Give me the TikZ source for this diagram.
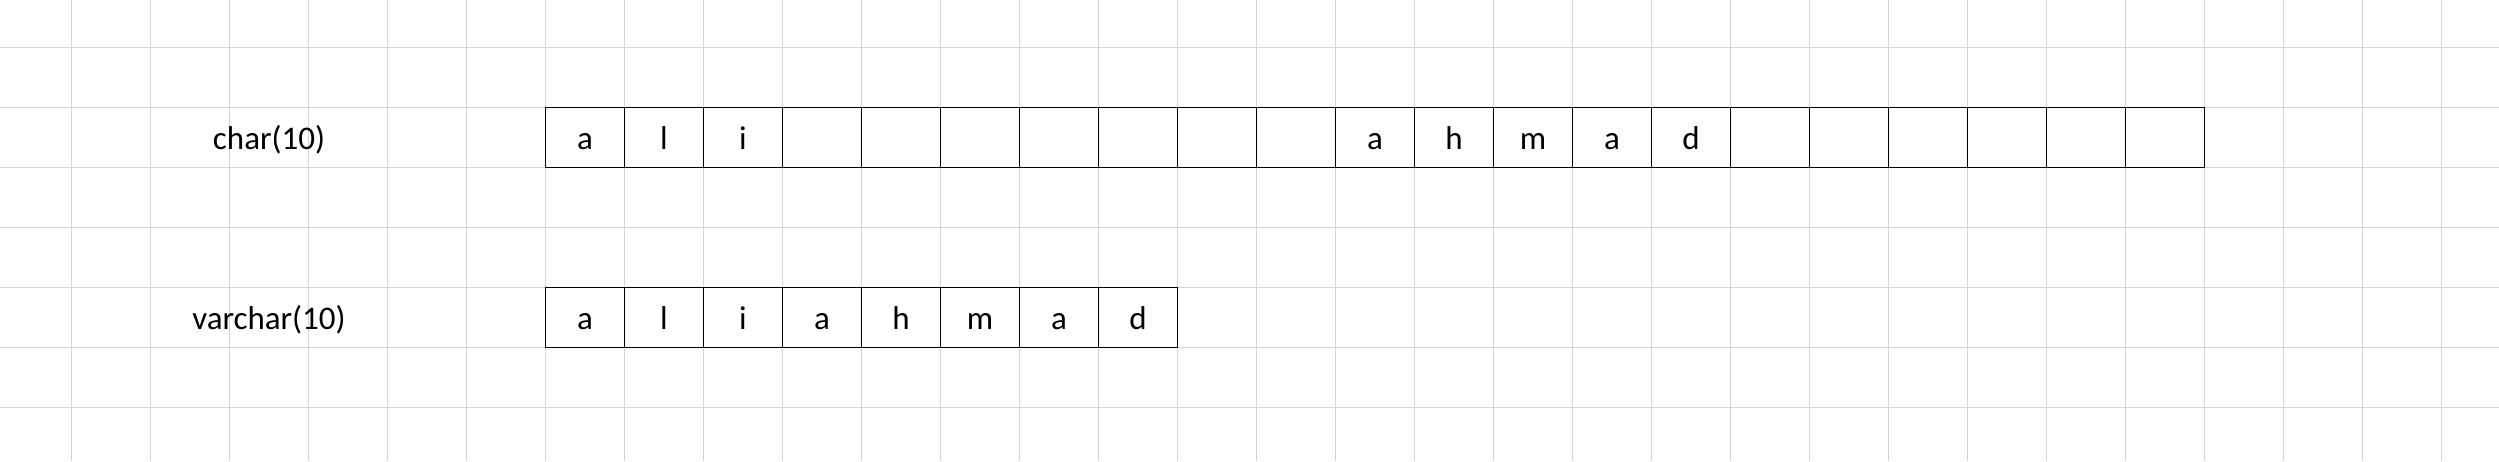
\documentclass[tikz,border=0pt]{standalone}
\usepackage{fontspec}
\setmainfont{Carlito}
\definecolor{gridgray}{RGB}{212,212,212}
\begin{document}
\begin{tikzpicture}[x=0.4pt,y=-0.4pt,
  gridline/.style={draw=gridgray,line width=0.45pt},
  cell/.style={draw=black,line width=0.5pt,minimum width=31.6pt,minimum height=24pt,inner sep=0pt,outer sep=0pt},
  txt/.style={font=\fontsize{13.2pt}{15pt}\selectfont,inner sep=0pt,anchor=base}]
\useasboundingbox[fill=white] (0,0) rectangle (2499,461);
% spreadsheet grid
\foreach \k in {0,...,30} \draw[gridline] ({71.4+79*\k},0) -- ({71.4+79*\k},461);
\foreach \k in {0,...,6} \draw[gridline] (0,{47.3+60*\k}) -- (2499,{47.3+60*\k});
% row labels
\node[txt] (lchar) at (269,149.3) {char(10)};
\node[txt] (lvar) at (269,329.3) {varchar(10)};
% char row
\foreach \i in {0,...,20} \node[cell] (c\i) at ({585+79*\i},137.3) {};
\foreach \i/\t in {0/a,1/l,2/i,10/a,11/h,12/m,13/a,14/d}
  \node[txt] (ct\i) at ({585+79*\i},149.3) {\t};
% varchar row
\foreach \i in {0,...,7} \node[cell] (v\i) at ({585+79*\i},317.3) {};
\foreach \i/\t in {0/a,1/l,2/i,3/a,4/h,5/m,6/a,7/d}
  \node[txt] (vt\i) at ({585+79*\i},329.3) {\t};
\end{tikzpicture}
\end{document}
